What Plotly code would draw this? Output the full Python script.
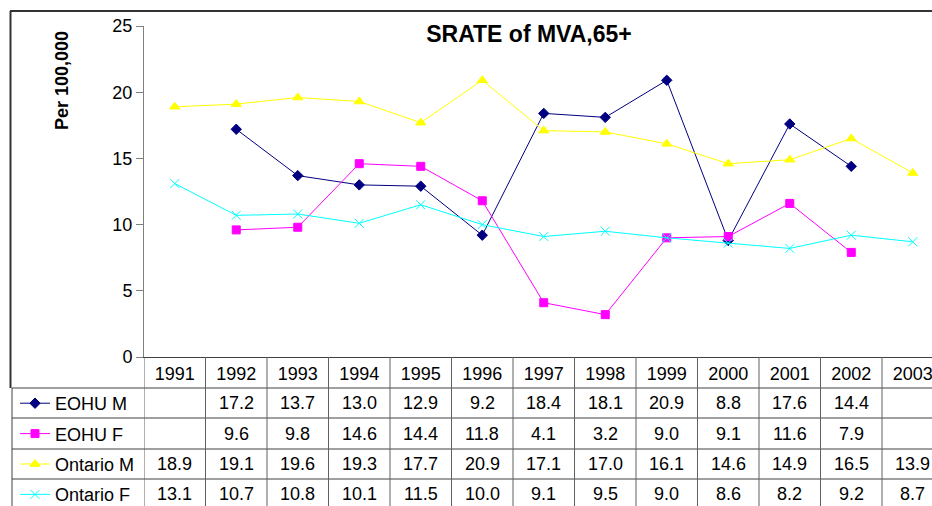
import plotly.graph_objects as go

years = ["1991", "1992", "1993", "1994", "1995", "1996", "1997",
         "1998", "1999", "2000", "2001", "2002", "2003"]
eohu_m = [None, 17.2, 13.7, 13.0, 12.9, 9.2, 18.4, 18.1, 20.9, 8.8, 17.6, 14.4, None]
eohu_f = [None, 9.6, 9.8, 14.6, 14.4, 11.8, 4.1, 3.2, 9.0, 9.1, 11.6, 7.9, None]
ontario_m = [18.9, 19.1, 19.6, 19.3, 17.7, 20.9, 17.1, 17.0, 16.1, 14.6, 14.9, 16.5, 13.9]
ontario_f = [13.1, 10.7, 10.8, 10.1, 11.5, 10.0, 9.1, 9.5, 9.0, 8.6, 8.2, 9.2, 8.7]

series = [
    ("EOHU M", eohu_m, "#000080", "diamond", 8),
    ("EOHU F", eohu_f, "#FF00FF", "square", 8),
    ("Ontario M", ontario_m, "#FFFF00", "triangle-up", 9),
    ("Ontario F", ontario_f, "#00FFFF", "x-thin", 9),
]

W, H = 932, 506
L, T, B = 144, 26, 357   # plot area edges in pixels
COL = 61.5               # width of one year column


def py(p):
    return (B - p) / (B - T)


def px(p):
    return (p - L) / (W - L)


FONT = "Liberation Sans, Arial, sans-serif"
xs = list(range(len(years)))

fig = go.Figure()
for name, vals, color, symbol, size in series:
    fig.add_trace(go.Scatter(
        x=xs, y=vals, name=name, mode="lines+markers", legendgroup=name,
        line=dict(color=color, width=1),
        marker=dict(symbol=symbol, size=size, color=color,
                    line=dict(color=color, width=1)),
    ))

# data table below the axis
row_lines = [388, 418, 449, 479]
row_mid = [403, 434, 464, 494]
shapes = []
for y in row_lines:
    shapes.append(dict(type="line", xref="paper", yref="paper",
                       x0=px(12), x1=1, y0=py(y), y1=py(y),
                       line=dict(color="#404040", width=1)))
for k in range(len(years) + 1):
    shapes.append(dict(type="line", xref="x", yref="paper",
                       x0=k - 0.5, x1=k - 0.5, y0=py(357), y1=py(510),
                       line=dict(color="#606060", width=1)))
shapes.append(dict(type="line", xref="paper", yref="paper",
                   x0=px(12), x1=px(12), y0=py(388), y1=py(510),
                   line=dict(color="#404040", width=1)))
# outer chart border (top and left)
shapes.append(dict(type="line", xref="paper", yref="paper",
                   x0=px(10.5), x1=px(10.5), y0=py(11), y1=py(388),
                   line=dict(color="#333333", width=2)))
shapes.append(dict(type="line", xref="paper", yref="paper",
                   x0=px(10), x1=1, y0=py(11), y1=py(11),
                   line=dict(color="#333333", width=2)))

annotations = []
for (name, vals, color, symbol, size), ym in zip(series, row_mid):
    for k, v in enumerate(vals):
        if v is None:
            continue
        annotations.append(dict(x=k, y=py(ym), xref="x", yref="paper",
                                xanchor="center", yanchor="middle",
                                text=f"{v:.1f}", showarrow=False,
                                font=dict(family=FONT, size=18, color="black")))
annotations.append(dict(x=px(62), y=py(81), xref="paper", yref="paper",
                        xanchor="center", yanchor="middle",
                        text="<b>Per 100,000</b>", textangle=-90, showarrow=False,
                        font=dict(family=FONT, size=18, color="black")))

fig.update_layout(
    width=W, height=H,
    margin=dict(l=L, r=0, t=T, b=H - B, pad=0, autoexpand=False),
    paper_bgcolor="white", plot_bgcolor="white",
    font=dict(family=FONT, size=18, color="black"),
    title=dict(text="<b>SRATE of MVA,65+</b>", x=529 / W, xanchor="center",
               y=1 - 34 / H, yanchor="middle", xref="container", yref="container",
               font=dict(family=FONT, size=23, color="black")),
    xaxis=dict(range=[-0.5, -0.5 + (W - L) / COL], tickvals=xs, ticktext=years,
               ticks="", showgrid=False, zeroline=False, showline=True,
               linecolor="#404040", linewidth=1, ticklabelstandoff=0,
               ticklabeloverflow="allow",
               tickfont=dict(family=FONT, size=18, color="black")),
    yaxis=dict(range=[0, 25], dtick=5, ticks="outside", ticklen=7,
               tickcolor="#808080", showgrid=False, zeroline=False,
               showline=True, linecolor="#808080", linewidth=1,
               tickfont=dict(family=FONT, size=18, color="black")),
    showlegend=True,
    legend=dict(x=15 / W, y=1 - 385 / H, xref="container", yref="container",
                xanchor="left", yanchor="top",
                traceorder="grouped", tracegroupgap=4,
                font=dict(family=FONT, size=18, color="black"),
                bgcolor="rgba(0,0,0,0)"),
    shapes=shapes,
    annotations=annotations,
)

fig.write_html("out.html", config={"displayModeBar": False},
               post_script="document.body.style.margin='0';"
                           "document.body.style.overflow='hidden';")
